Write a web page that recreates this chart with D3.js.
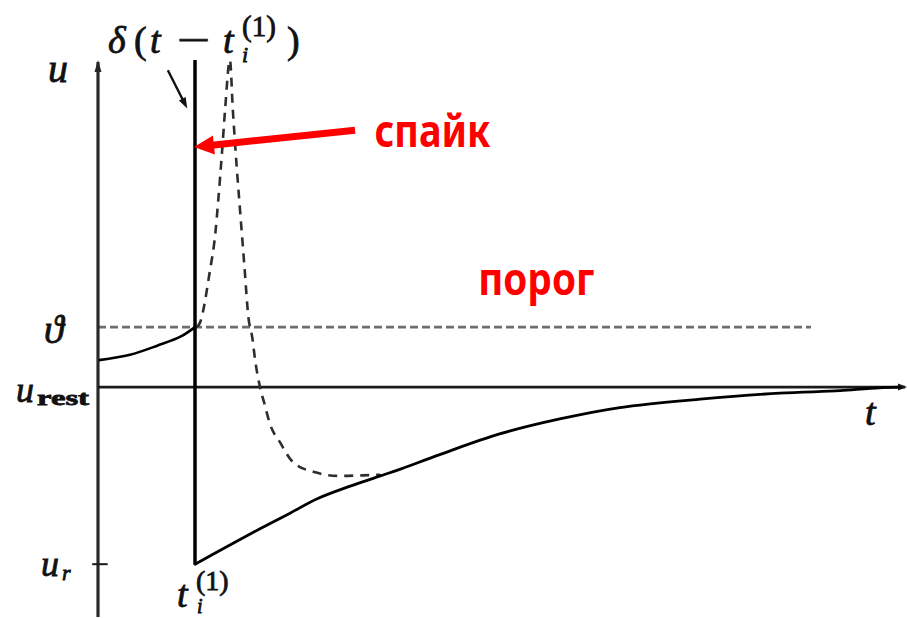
<!DOCTYPE html>
<html>
<head>
<meta charset="utf-8">
<script src="https://cdn.jsdelivr.net/npm/d3@7"></script>
<style>
  html, body { margin: 0; padding: 0; background: #fff; }
  svg { display: block; }
  .math { font-family: "Liberation Serif", "DejaVu Serif", serif; fill: #111; stroke: #111; stroke-width: 0.8; }
  .red { font-family: "Noto Sans", "Liberation Sans", sans-serif; font-weight: bold; fill: #ff0000; }
</style>
</head>
<body>
<svg id="chart" width="907" height="618"></svg>
<script>
// Membrane potential around a spike: u_rest = 0, threshold ϑ = 1, reset u_r
const uRest = 0;
const theta = 1;
const uReset = -2.95;
const tSpike = 1.0;

// Potential rising towards the threshold before the spike
const preSpikeT = [0.01, 0.33, 0.61, 0.85, 1.0];
const preSpikeU = [0.45, 0.54, 0.69, 0.84, 1.0];

// Recovery from the reset value back to rest
const recoveryT = [1.0, 1.36, 1.67, 1.98, 2.26, 2.6, 2.91, 3.11, 3.53, 4.14, 4.76, 5.38, 6.21, 7.03, 7.65, 7.96, 8.27];
const recoveryU = [-2.95, -2.63, -2.36, -2.1, -1.86, -1.65, -1.48, -1.37, -1.12, -0.78, -0.53, -0.34, -0.2, -0.1, -0.06, -0.02, 0];

// Actual action potential shape (dashed)
const actionT = [1.02, 1.05, 1.15, 1.21, 1.24, 1.28, 1.31, 1.36, 1.39, 1.43, 1.47, 1.51, 1.55, 1.59, 1.62, 1.67, 1.72, 1.77, 1.88, 2.01, 2.24, 2.49, 2.73, 2.91];
const actionU = [1.0, 1.07, 1.9, 2.57, 3.12, 3.95, 4.62, 5.45, 4.62, 3.67, 2.83, 2.0, 1.17, 0.83, 0.45, 0, -0.3, -0.6, -0.93, -1.25, -1.42, -1.48, -1.47, -1.46];

// Axis extents and labels
const tDomain = [0, 8.34];
const uDomain = [-3.83, 5.45];
const thresholdEnd = 7.35;
const labelSpike = "спайк";
const labelThreshold = "порог";

const svg = d3.select("#chart");
const x = d3.scaleLinear().domain(tDomain).range([98, 907]);
const y = d3.scaleLinear().domain(uDomain).range([617, 60]);

const zip = (ts, us) => ts.map((t, i) => [t, us[i]]);
const line = d3.line().x(d => x(d[0])).y(d => y(d[1]));

// Threshold (dashed)
svg.append("line")
  .attr("x1", x(0)).attr("x2", x(thresholdEnd))
  .attr("y1", y(theta)).attr("y2", y(theta))
  .attr("stroke", "#6e6e6e").attr("stroke-width", 2.8)
  .attr("stroke-dasharray", "8,4");

// Axes
svg.append("line")
  .attr("x1", x(0)).attr("x2", x(0))
  .attr("y1", y(uDomain[1]) + 2).attr("y2", y(uDomain[0]))
  .attr("stroke", "#2a2a2a").attr("stroke-width", 3.2);
svg.append("path")
  .attr("d", `M${x(0)},${y(uDomain[1])} l-3.5,12 l7,0 z`)
  .attr("fill", "#262626");
svg.append("line")
  .attr("x1", x(0)).attr("x2", x(tDomain[1]) - 2)
  .attr("y1", y(uRest)).attr("y2", y(uRest))
  .attr("stroke", "#1a1a1a").attr("stroke-width", 2.6);
svg.append("path")
  .attr("d", `M${x(tDomain[1])},${y(uRest)} l-9,-3.5 l0,7 z`)
  .attr("fill", "#1a1a1a");

// Reset tick
svg.append("line")
  .attr("x1", x(-0.06)).attr("x2", x(0.1))
  .attr("y1", y(uReset)).attr("y2", y(uReset))
  .attr("stroke", "#1a1a1a").attr("stroke-width", 2);

// Dashed action potential
svg.append("path")
  .datum(zip(actionT, actionU))
  .attr("d", line.curve(d3.curveMonotoneX))
  .attr("fill", "none").attr("stroke", "#2e2e2e").attr("stroke-width", 2.6)
  .attr("stroke-dasharray", "9,7");

// Pre-spike potential
svg.append("path")
  .datum(zip(preSpikeT, preSpikeU))
  .attr("d", line.curve(d3.curveCatmullRom))
  .attr("fill", "none").attr("stroke", "#000").attr("stroke-width", 2.6);

// Delta pulse at spike time
svg.append("line")
  .attr("x1", x(tSpike)).attr("x2", x(tSpike))
  .attr("y1", y(uDomain[1])).attr("y2", y(uReset))
  .attr("stroke", "#000").attr("stroke-width", 3.5);

// Recovery after reset
svg.append("path")
  .datum(zip(recoveryT, recoveryU))
  .attr("d", line.curve(d3.curveCatmullRom))
  .attr("fill", "none").attr("stroke", "#000").attr("stroke-width", 2.8)
  .attr("stroke-linecap", "round");

// Arrow helper
function arrow(t0, u0, t1, u1, color, width, headLen, headHalf) {
  const x0 = x(t0), y0 = y(u0), x1 = x(t1), y1 = y(u1);
  const dx = x1 - x0, dy = y1 - y0, L = Math.hypot(dx, dy);
  const ux = dx / L, uy = dy / L;
  const bx = x1 - ux * headLen, by = y1 - uy * headLen;
  svg.append("line")
    .attr("x1", x0).attr("y1", y0).attr("x2", bx + ux * 2).attr("y2", by + uy * 2)
    .attr("stroke", color).attr("stroke-width", width);
  svg.append("path")
    .attr("d", `M${x1},${y1} L${bx - uy * headHalf},${by + ux * headHalf} L${bx + uy * headHalf},${by - ux * headHalf} Z`)
    .attr("fill", color);
}

// Pointer from the delta label to the pulse
arrow(0.72, 5.28, 0.92, 4.64, "#111", 2.4, 11, 3.8);
// Red arrow marking the spike
arrow(2.65, 4.28, 0.99, 4.0, "#ff0000", 7, 20, 9.5);

// Math labels
function mtext(px, py, str, size, italic, anchor) {
  return svg.append("text").attr("class", "math")
    .attr("x", px).attr("y", py)
    .attr("font-size", size)
    .attr("font-style", italic ? "italic" : "normal")
    .attr("text-anchor", anchor || "start")
    .text(str);
}

// u axis label
mtext(x(0) - 50, y(uDomain[1]) + 22, "u", 40, true);
// threshold label
mtext(x(0) - 54, y(theta) + 16, "ϑ", 40, true);
// resting potential label
mtext(x(0) - 82, y(uRest) + 15, "u", 36, true);
mtext(x(0) - 61, y(uRest) + 18, "rest", 22, false).attr("font-weight", "bold").attr("textLength", 52).attr("lengthAdjust", "spacingAndGlyphs");
// reset label
mtext(x(0) - 57, y(uReset) + 12, "u", 36, true);
mtext(x(0) - 36, y(uReset) + 16, "r", 22, true);
// time axis label
mtext(x(tDomain[1]) - 42, y(uRest) + 38, "t", 38, true);

// spike time label under the pulse
mtext(x(tSpike) - 18, y(uReset) + 43, "t", 38, true);
mtext(x(tSpike) + 2, y(uReset) + 49, "i", 20, true);
mtext(x(tSpike) + 1, y(uReset) + 26, "(1)", 28, false);

// delta label above the pulse
mtext(x(tSpike) - 87, y(uDomain[1]) - 7, "δ", 38, true);
mtext(x(tSpike) - 61, y(uDomain[1]) - 7, "(", 38, false);
mtext(x(tSpike) - 45, y(uDomain[1]) - 7, "t", 38, true);
mtext(x(tSpike) - 18, y(uDomain[1]) - 7, "−", 38, false)
  .attr("textLength", 33).attr("lengthAdjust", "spacingAndGlyphs");
mtext(x(tSpike) + 28, y(uDomain[1]) - 7, "t", 38, true);
mtext(x(tSpike) + 47, y(uDomain[1]) + 2, "i", 22, true);
mtext(x(tSpike) + 47, y(uDomain[1]) - 24, "(1)", 29, false);
mtext(x(tSpike) + 92, y(uDomain[1]) - 7, ")", 38, false);

// Red annotations
svg.append("text").attr("class", "red")
  .attr("x", x(2.85)).attr("y", y(4.0))
  .attr("font-size", 44)
  .attr("textLength", 116).attr("lengthAdjust", "spacingAndGlyphs")
  .text(labelSpike);
svg.append("text").attr("class", "red")
  .attr("x", x(3.92)).attr("y", y(1.53))
  .attr("font-size", 44)
  .attr("textLength", 116).attr("lengthAdjust", "spacingAndGlyphs")
  .text(labelThreshold);
</script>
</body>
</html>
